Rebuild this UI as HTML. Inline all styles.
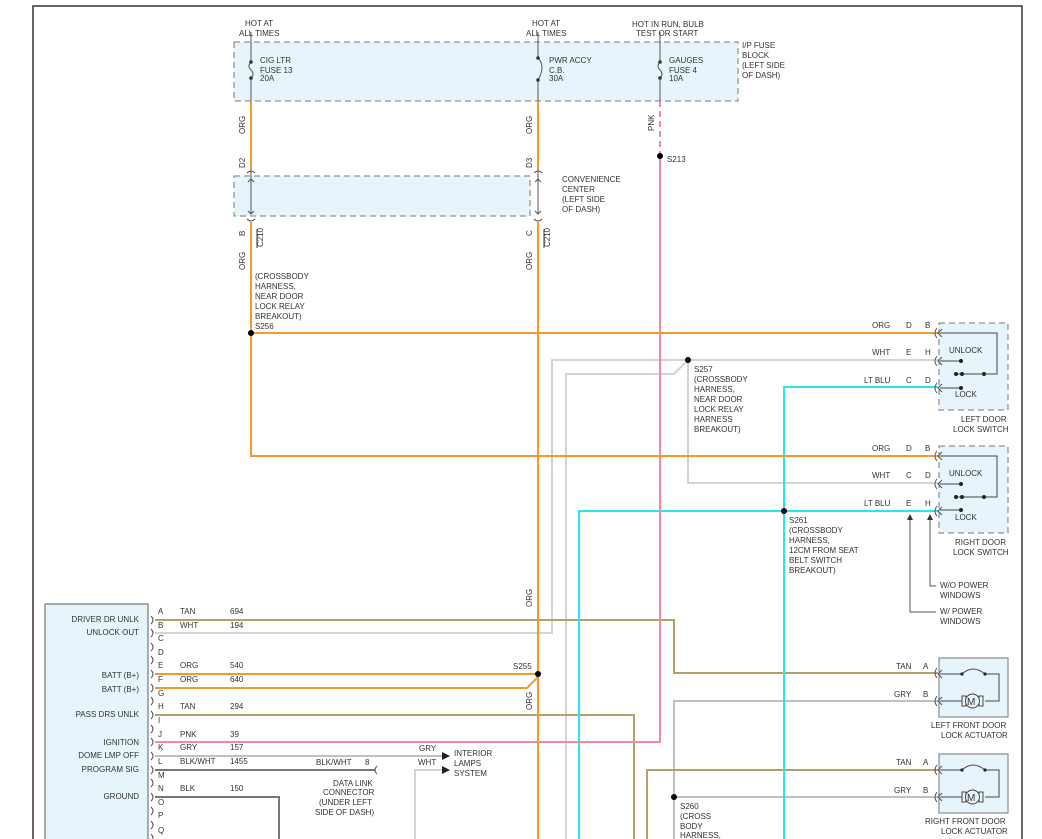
<!DOCTYPE html>
<html><head><meta charset="utf-8"><style>
html,body{margin:0;padding:0;background:#fff;}
svg{display:block;}
text{font-family:"Liberation Sans",sans-serif;font-size:8px;fill:#333;}
</style></head><body>
<svg width="1042" height="839" viewBox="0 0 1042 839" xmlns="http://www.w3.org/2000/svg">
<!-- frame -->
<polyline points="33,839 33,6 1022,6 1022,839" fill="none" stroke="#333" stroke-width="1.5"/>

<!-- fuse block -->
<rect x="234" y="42" width="504" height="59" fill="#e8f4fc" stroke="#777" stroke-dasharray="6,4"/>
<rect x="234" y="176" width="296" height="40" fill="#e8f4fc" stroke="#777" stroke-dasharray="6,4"/>
<g fill="none" stroke="#555" stroke-width="1">
<line x1="251" y1="32" x2="251" y2="62"/><path d="M251,62 q-4,4 0,8 q4,4 0,8"/><line x1="251" y1="78" x2="251" y2="101"/>
<line x1="538" y1="32" x2="538" y2="58"/><path d="M538,58 q8,8 0,22"/><line x1="538" y1="80" x2="538" y2="101"/>
<line x1="660" y1="32" x2="660" y2="62"/><path d="M660,62 q-4,4 0,8 q4,4 0,8"/><line x1="660" y1="78" x2="660" y2="101"/>
<line x1="251" y1="170" x2="251" y2="214"/><line x1="538" y1="170" x2="538" y2="214"/>
<path d="M248,182 l3,-3 l3,3 M248,211 l3,3 l3,-3 M535,182 l3,-3 l3,3 M535,211 l3,3 l3,-3"/>
<path d="M247,173 q4,-4 8,0 M247,219 q4,4 8,0 M534,173 q4,-4 8,0 M534,219 q4,4 8,0"/>
</g>
<g fill="#333">
<circle cx="251" cy="62" r="1.8"/><circle cx="251" cy="78" r="1.8"/>
<circle cx="538" cy="58" r="1.8"/><circle cx="538" cy="80" r="1.8"/>
<circle cx="660" cy="62" r="1.8"/><circle cx="660" cy="78" r="1.8"/>
</g>
<text x="245" y="26">HOT AT</text><text x="239" y="36">ALL TIMES</text>
<text x="532" y="26">HOT AT</text><text x="526" y="36">ALL TIMES</text>
<text x="632" y="27">HOT IN RUN, BULB</text><text x="636" y="36">TEST OR START</text>
<text x="260" y="63">CIG LTR</text><text x="260" y="73">FUSE 13</text><text x="260" y="81">20A</text>
<text x="549" y="63">PWR ACCY</text><text x="549" y="73">C.B.</text><text x="549" y="81">30A</text>
<text x="669" y="63">GAUGES</text><text x="669" y="73">FUSE 4</text><text x="669" y="81">10A</text>
<text x="742" y="48">I/P FUSE</text><text x="742" y="58">BLOCK</text><text x="742" y="68">(LEFT SIDE</text><text x="742" y="78">OF DASH)</text>
<text x="562" y="182">CONVENIENCE</text><text x="562" y="192">CENTER</text><text x="562" y="202">(LEFT SIDE</text><text x="562" y="212">OF DASH)</text>

<!-- vertical labels -->
<g>
<text transform="translate(245,134) rotate(-90)">ORG</text>
<text transform="translate(245,168) rotate(-90)">D2</text>
<text transform="translate(245,236) rotate(-90)">B</text>
<text transform="translate(263,247) rotate(-90)">C210</text>
<text transform="translate(245,270) rotate(-90)">ORG</text>
<text transform="translate(532,134) rotate(-90)">ORG</text>
<text transform="translate(532,168) rotate(-90)">D3</text>
<text transform="translate(532,236) rotate(-90)">C</text>
<text transform="translate(550,247) rotate(-90)">C210</text>
<text transform="translate(532,270) rotate(-90)">ORG</text>
<text transform="translate(654,131) rotate(-90)">PNK</text>
<text transform="translate(532,607) rotate(-90)">ORG</text>
<text transform="translate(532,710) rotate(-90)">ORG</text>
</g>
<line x1="257" y1="229" x2="257" y2="248" stroke="#333"/><line x1="544" y1="229" x2="544" y2="248" stroke="#333"/>

<!-- wires -->
<g fill="none" stroke-width="2">
<!-- light gray -->
<g stroke="#d4d4d4">
<polyline points="155,633 552,633 552,360 688,360 938,360"/>
<polyline points="566,839 566,374 674,374 688,360"/>
<polyline points="688,360 688,483 938,483"/>
<polyline points="415,839 415,770 442,770"/>
</g>
<g stroke="#c0c0c0">
<polyline points="155,756 442,756"/>
<polyline points="938,701 674,701 674,839"/>
<polyline points="674,797 938,797"/>
</g>
<polyline stroke="#777" points="155,770 375,770"/>
<polyline stroke="#777" points="155,797 279,797 279,839"/>
<!-- tan -->
<g stroke="#b5a06a">
<polyline points="155,620 674,620 674,673 938,673"/>
<polyline points="155,715 634,715 634,839"/>
<polyline points="647,839 647,770 938,770"/>
</g>
<!-- cyan -->
<g stroke="#26e6ef">
<polyline points="938,387 784,387 784,839"/>
<polyline points="579,839 579,511 938,511"/>
</g>
<!-- pink -->
<line x1="660" y1="101" x2="660" y2="156" stroke="#f08aa0" stroke-dasharray="6,4"/>
<polyline stroke="#f08aa0" points="660,156 660,742 155,742"/>
<!-- orange -->
<g stroke="#f59a2a">
<polyline points="251,101 251,170"/><polyline points="538,101 538,170"/>
<polyline points="251,222 251,456 938,456"/>
<polyline points="251,333 938,333"/>
<polyline points="538,222 538,839"/>
<polyline points="155,674 538,674"/>
<polyline points="155,688 527,688 538,677"/>
</g>
</g>
<!-- splices -->
<g fill="#000">
<circle cx="660" cy="156" r="3"/><circle cx="251" cy="333" r="3"/><circle cx="688" cy="360" r="3"/>
<circle cx="784" cy="511" r="3"/><circle cx="538" cy="674" r="3"/><circle cx="674" cy="797" r="3"/>
</g>
<text x="667" y="162">S213</text>
<text x="255" y="279">(CROSSBODY</text><text x="255" y="289">HARNESS,</text><text x="255" y="299">NEAR DOOR</text><text x="255" y="309">LOCK RELAY</text><text x="255" y="319">BREAKOUT)</text><text x="255" y="329">S256</text>
<text x="694" y="372">S257</text><text x="694" y="382">(CROSSBODY</text><text x="694" y="392">HARNESS,</text><text x="694" y="402">NEAR DOOR</text><text x="694" y="412">LOCK RELAY</text><text x="694" y="422">HARNESS</text><text x="694" y="432">BREAKOUT)</text>
<text x="789" y="523">S261</text><text x="789" y="533">(CROSSBODY</text><text x="789" y="543">HARNESS,</text><text x="789" y="553">12CM FROM SEAT</text><text x="789" y="563">BELT SWITCH</text><text x="789" y="573">BREAKOUT)</text>
<text x="513" y="669">S255</text>
<text x="680" y="809">S260</text><text x="680" y="819">(CROSS</text><text x="680" y="829">BODY</text><text x="680" y="838">HARNESS,</text>

<!-- switch boxes -->
<g>
<rect x="939" y="323" width="69" height="87" fill="#e8f4fc" stroke="#777" stroke-dasharray="6,4"/>
<rect x="939" y="446" width="69" height="87" fill="#e8f4fc" stroke="#777" stroke-dasharray="6,4"/>
</g>
<g fill="none" stroke="#444" stroke-width="1">
<polyline points="940,333 997,333 997,374 956,374"/><line x1="940" y1="361" x2="961" y2="361"/><line x1="940" y1="388" x2="961" y2="388"/>
<polyline points="940,456 997,456 997,497 956,497"/><line x1="940" y1="484" x2="961" y2="484"/><line x1="940" y1="510" x2="961" y2="510"/>
</g>
<g fill="#222">
<circle cx="961" cy="361" r="2"/><circle cx="956" cy="374" r="2"/><circle cx="962" cy="374" r="2"/><circle cx="984" cy="374" r="2"/><circle cx="961" cy="388" r="2"/>
<circle cx="961" cy="484" r="2"/><circle cx="956" cy="497" r="2"/><circle cx="962" cy="497" r="2"/><circle cx="984" cy="497" r="2"/><circle cx="961" cy="510" r="2"/>
</g>
<text x="949" y="353">UNLOCK</text><text x="955" y="397">LOCK</text>
<text x="949" y="476">UNLOCK</text><text x="955" y="520">LOCK</text>
<text x="961" y="422">LEFT DOOR</text><text x="953" y="432">LOCK SWITCH</text>
<text x="955" y="545">RIGHT DOOR</text><text x="953" y="555">LOCK SWITCH</text>
<text x="872" y="328">ORG</text><text x="906" y="328">D</text><text x="925" y="328">B</text>
<text x="872" y="355">WHT</text><text x="906" y="355">E</text><text x="925" y="355">H</text>
<text x="864" y="383">LT BLU</text><text x="906" y="383">C</text><text x="925" y="383">D</text>
<text x="872" y="451">ORG</text><text x="906" y="451">D</text><text x="925" y="451">B</text>
<text x="872" y="478">WHT</text><text x="906" y="478">C</text><text x="925" y="478">D</text>
<text x="864" y="506">LT BLU</text><text x="906" y="506">E</text><text x="925" y="506">H</text>
<g fill="none" stroke="#555">
<polyline points="910,517 910,612 936,612"/><polyline points="930,517 930,586 936,586"/>
</g>
<path d="M907,520 l3,-6 l3,6z M927,520 l3,-6 l3,6z" fill="#333"/>
<text x="940" y="588">W/O POWER</text><text x="940" y="598">WINDOWS</text>
<text x="940" y="614">W/ POWER</text><text x="940" y="624">WINDOWS</text>

<!-- actuators -->
<rect x="939" y="658" width="69" height="59" fill="#e8f4fc" stroke="#777"/>
<rect x="939" y="754" width="69" height="59" fill="#e8f4fc" stroke="#777"/>
<g fill="none" stroke="#444">
<polyline points="940,674 962,674"/><path d="M962,674 q11,-10 23,0"/><polyline points="985,674 999,674 999,701 985,701"/><line x1="940" y1="701" x2="962" y2="701"/>
<rect x="962" y="696" width="4" height="10"/><rect x="979" y="696" width="4" height="10"/><circle cx="972.5" cy="701" r="7" fill="#e8f4fc"/>
<polyline points="940,770 962,770"/><path d="M962,770 q11,-10 23,0"/><polyline points="985,770 999,770 999,797 985,797"/><line x1="940" y1="797" x2="962" y2="797"/>
<rect x="962" y="792" width="4" height="10"/><rect x="979" y="792" width="4" height="10"/><circle cx="972.5" cy="797" r="7" fill="#e8f4fc"/>
</g>
<g fill="#222"><circle cx="962" cy="674" r="1.6"/><circle cx="985" cy="674" r="1.6"/><circle cx="962" cy="770" r="1.6"/><circle cx="985" cy="770" r="1.6"/></g>
<text x="967" y="705" style="font-size:10px">M</text><text x="967" y="801" style="font-size:10px">M</text>
<text x="896" y="669">TAN</text><text x="923" y="669">A</text>
<text x="894" y="697">GRY</text><text x="923" y="697">B</text>
<text x="896" y="765">TAN</text><text x="923" y="765">A</text>
<text x="894" y="793">GRY</text><text x="923" y="793">B</text>
<text x="931" y="728">LEFT FRONT DOOR</text><text x="941" y="738">LOCK ACTUATOR</text>
<text x="925" y="824">RIGHT FRONT DOOR</text><text x="941" y="834">LOCK ACTUATOR</text>
<!-- connector marks on right -->
<g fill="none" stroke="#555">
<path d="M937,328 q-4,5 0,10 M942,329 l-4,4 l4,4 M937,356 q-4,5 0,10 M942,357 l-4,4 l4,4 M937,383 q-4,5 0,10 M942,384 l-4,4 l4,4"/>
<path d="M937,451 q-4,5 0,10 M942,452 l-4,4 l4,4 M937,479 q-4,5 0,10 M942,480 l-4,4 l4,4 M937,506 q-4,5 0,10 M942,507 l-4,4 l4,4"/>
<path d="M937,668 q-4,5 0,10 M942,670 l-4,4 l4,4 M937,696 q-4,5 0,10 M942,697 l-4,4 l4,4"/>
<path d="M937,765 q-4,5 0,10 M942,766 l-4,4 l4,4 M937,792 q-4,5 0,10 M942,793 l-4,4 l4,4"/>
<path d="M377,766 q-4,4 0,8"/>
</g>

<!-- module -->
<rect x="45" y="604" width="103" height="240" fill="#e8f4fc" stroke="#777" stroke-width="1.2"/>
<g text-anchor="end">
<text x="139" y="622">DRIVER DR UNLK</text><text x="139" y="635">UNLOCK OUT</text>
<text x="139" y="678">BATT (B+)</text><text x="139" y="692">BATT (B+)</text>
<text x="139" y="717">PASS DRS UNLK</text><text x="139" y="745">IGNITION</text>
<text x="139" y="758">DOME LMP OFF</text><text x="139" y="772">PROGRAM SIG</text><text x="139" y="799">GROUND</text>
</g>
<g fill="none" stroke="#555">
<path d="M151,616 q4,4 0,8 M151,629 q4,4 0,8 M151,643 q4,4 0,8 M151,656 q4,4 0,8 M151,670 q4,4 0,8 M151,684 q4,4 0,8 M151,697 q4,4 0,8 M151,711 q4,4 0,8 M151,725 q4,4 0,8 M151,738 q4,4 0,8 M151,752 q4,4 0,8 M151,766 q4,4 0,8 M151,779 q4,4 0,8 M151,793 q4,4 0,8 M151,807 q4,4 0,8 M151,821 q4,4 0,8 M151,834 q4,4 0,8"/>
</g>
<g>
<text x="158" y="614">A</text><text x="158" y="628">B</text><text x="158" y="641">C</text><text x="158" y="655">D</text><text x="158" y="668">E</text><text x="158" y="682">F</text><text x="158" y="696">G</text><text x="158" y="709">H</text><text x="158" y="723">I</text><text x="158" y="737">J</text><text x="158" y="750">K</text><text x="158" y="764">L</text><text x="158" y="778">M</text><text x="158" y="791">N</text><text x="158" y="805">O</text><text x="158" y="818">P</text><text x="158" y="833">Q</text>
<text x="180" y="614">TAN</text><text x="230" y="614">694</text>
<text x="180" y="628">WHT</text><text x="230" y="628">194</text>
<text x="180" y="668">ORG</text><text x="230" y="668">540</text>
<text x="180" y="682">ORG</text><text x="230" y="682">640</text>
<text x="180" y="709">TAN</text><text x="230" y="709">294</text>
<text x="180" y="737">PNK</text><text x="230" y="737">39</text>
<text x="180" y="750">GRY</text><text x="230" y="750">157</text>
<text x="180" y="764">BLK/WHT</text><text x="230" y="764">1455</text>
<text x="180" y="791">BLK</text><text x="230" y="791">150</text>
<text x="316" y="765">BLK/WHT</text><text x="365" y="765">8</text>
<text x="419" y="751">GRY</text><text x="418" y="765">WHT</text>
<text x="454" y="756">INTERIOR</text><text x="454" y="766">LAMPS</text><text x="454" y="776">SYSTEM</text>
<text x="333" y="786">DATA LINK</text><text x="323" y="795">CONNECTOR</text><text x="319" y="805">(UNDER LEFT</text><text x="315" y="815">SIDE OF DASH)</text>
</g>
<path d="M442,752 l8,4 l-8,4z M442,766 l8,4 l-8,4z" fill="#222"/>
</svg>
</body></html>
